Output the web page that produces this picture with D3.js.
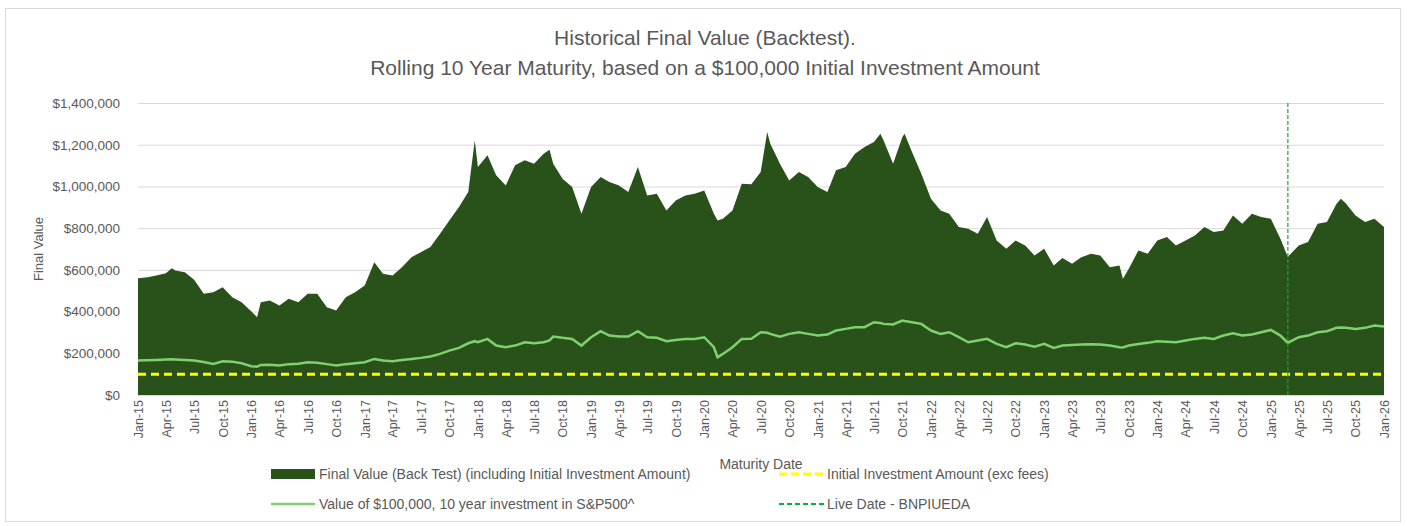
<!DOCTYPE html>
<html>
<head>
<meta charset="utf-8">
<script src="https://cdn.jsdelivr.net/npm/d3@7"></script>
<style>
  body { margin: 0; background: #fff; }
  svg { display: block; }
  .narrow { font-family: "Liberation Sans Narrow", "Arial Narrow", sans-serif; }
</style>
</head>
<body>
<div id="chart"></div>
<script>
// maturity dates (monthly, plus a few extra points at visible peaks / dips)
var dates = [
  '2015-01-01','2015-02-01','2015-03-01','2015-04-01','2015-04-20','2015-05-01','2015-06-01','2015-07-01','2015-08-01','2015-09-01','2015-10-01','2015-11-01','2015-12-01',
  '2016-01-01','2016-01-20','2016-02-01','2016-03-01','2016-04-01','2016-05-01','2016-06-01','2016-07-01','2016-08-01','2016-09-01','2016-10-01','2016-11-01','2016-12-01',
  '2017-01-01','2017-02-01','2017-03-01','2017-04-01','2017-05-01','2017-06-01','2017-07-01','2017-08-01','2017-09-01','2017-10-01','2017-11-01','2017-12-01','2017-12-22',
  '2018-01-01','2018-02-01','2018-03-01','2018-04-01','2018-05-01','2018-06-01','2018-07-01','2018-08-01','2018-08-20','2018-09-01','2018-10-01','2018-11-01','2018-12-01',
  '2019-01-01','2019-02-01','2019-03-01','2019-04-01','2019-05-01','2019-06-01','2019-07-01','2019-08-01','2019-09-01','2019-10-01','2019-11-01','2019-12-01',
  '2020-01-01','2020-02-01','2020-02-13','2020-03-01','2020-04-01','2020-05-01','2020-06-01','2020-07-01','2020-07-22','2020-08-01','2020-09-01','2020-10-01','2020-11-01','2020-12-01',
  '2021-01-01','2021-02-01','2021-03-01','2021-04-01','2021-05-01','2021-06-01','2021-07-01','2021-07-22','2021-08-01','2021-09-01','2021-10-01','2021-10-08','2021-11-01','2021-12-01',
  '2022-01-01','2022-02-01','2022-03-01','2022-04-01','2022-05-01','2022-06-01','2022-07-01','2022-08-01','2022-09-01','2022-10-01','2022-11-01','2022-12-01',
  '2023-01-01','2023-02-01','2023-03-01','2023-04-01','2023-05-01','2023-06-01','2023-07-01','2023-08-01','2023-09-01','2023-09-12','2023-10-01','2023-11-01','2023-12-01',
  '2024-01-01','2024-02-01','2024-03-01','2024-04-01','2024-05-01','2024-06-01','2024-07-01','2024-08-01','2024-09-01','2024-10-01','2024-11-01','2024-12-01',
  '2025-01-01','2025-02-01','2025-02-25','2025-03-01','2025-04-01','2025-05-01','2025-06-01','2025-07-01','2025-08-01','2025-08-15','2025-09-01','2025-10-01','2025-11-01','2025-12-01',
  '2026-01-01'
];

// Final Value (Back Test), in $ thousands
var finalValue = [
  560,565,573,584,608,597,589,552,485,493,517,469,445,
  402,373,445,453,429,461,445,485,485,421,405,469,493,
  525,637,581,573,613,661,685,709,773,837,901,973,1221,
  1093,1149,1053,1005,1101,1125,1109,1157,1176,1109,1037,997,869,
  997,1045,1021,1005,973,1093,957,965,885,933,957,965,
  981,869,837,845,885,1013,1010,1069,1261,1205,1109,1029,1069,1045,
  997,973,1077,1093,1157,1189,1213,1253,1221,1109,1237,1253,1165,1061,
  941,885,869,805,797,773,853,741,701,741,717,669,
  701,621,657,629,661,677,669,613,621,557,605,693,677,
  741,757,717,741,765,805,781,789,861,821,869,853,
  845,749,661,669,717,733,821,829,917,941,917,861,829,845,
  805
];

// Value of $100,000, 10 year investment in S&P500, in $ thousands
var spValue = [
  165,167,168,170,171,170,168,165,158,149,162,160,152,
  138,136,144,145,141,148,150,157,155,148,141,148,152,
  157,173,165,162,168,173,178,185,197,213,226,248,258,
  253,269,237,229,237,253,248,253,262,280,274,269,237,
  277,306,285,280,280,306,277,274,258,264,269,269,
  277,229,181,197,229,269,270,301,298,293,280,293,301,293,
  285,290,309,317,325,325,349,345,341,338,357,355,349,341,
  309,293,301,277,253,261,269,245,229,248,242,232,
  245,226,237,240,242,243,242,237,229,228,237,245,250,
  258,255,253,261,269,274,269,285,296,285,290,301,
  312,285,250,253,277,285,301,306,322,324,322,317,322,333,
  328
];

var initialInvestment = 100000;
var liveDate = '2025-02-25';
var yTicks = [0, 200000, 400000, 600000, 800000, 1000000, 1200000, 1400000];

var titleLines = [
  'Historical Final Value (Backtest).',
  'Rolling 10 Year Maturity, based on a $100,000 Initial Investment Amount'
];

var svgWidth = 1407;
var svgHeight = 526;
var margins = { top: 103, right: 23, bottom: 131, left: 138 };
var chartWidth = svgWidth - margins.left - margins.right;
var chartHeight = svgHeight - margins.top - margins.bottom;

var parse = d3.timeParse('%Y-%m-%d');
var rows = dates.map((d, i) => ({ date: parse(d), fv: finalValue[i] * 1000, sp: spValue[i] * 1000 }));

var svg = d3.select('#chart').append('svg')
  .attr('width', svgWidth)
  .attr('height', svgHeight);

// outer chart border
svg.append('rect')
  .attr('x', 5.5).attr('y', 8.5)
  .attr('width', 1395).attr('height', 513)
  .attr('fill', '#fff')
  .attr('stroke', '#d9d9d9');

// title
svg.append('g').selectAll('text')
  .data(titleLines)
  .enter()
  .append('text')
  .attr('class', 'narrow')
  .attr('x', 705)
  .attr('y', (d, i) => 45 + i * 30)
  .attr('text-anchor', 'middle')
  .attr('font-size', 21)
  .attr('fill', '#595959')
  .text(d => d);

var chartGroup = svg.append('g')
  .attr('transform', `translate(${margins.left}, ${margins.top})`);

var x = d3.scaleTime()
  .domain([parse('2015-01-01'), parse('2026-01-01')])
  .range([0, chartWidth]);

var y = d3.scaleLinear()
  .domain([0, 1400000])
  .range([chartHeight, 0]);

// gridlines
chartGroup.append('g')
  .call(d3.axisLeft(y).tickValues(yTicks).tickSize(-chartWidth).tickFormat(''))
  .call(g => g.select('.domain').remove())
  .call(g => g.selectAll('line').attr('stroke', '#d9d9d9').attr('stroke-width', 1));

// y axis labels
chartGroup.append('g')
  .attr('transform', 'translate(-15, 0)')
  .call(d3.axisLeft(y).tickValues(yTicks).tickSize(0).tickFormat(d => '$' + d3.format(',')(d)))
  .call(g => g.select('.domain').remove())
  .call(g => g.selectAll('text')
    .attr('font-family', '"Liberation Sans", Arial, sans-serif')
    .attr('font-size', 13.5)
    .attr('fill', '#595959'));

// backtest area
var area = d3.area()
  .x(d => x(d.date))
  .y0(y(0))
  .y1(d => y(d.fv));

chartGroup.append('path')
  .datum(rows)
  .attr('d', area)
  .attr('fill', '#28521a');

// S&P line
var spLine = d3.line()
  .x(d => x(d.date))
  .y(d => y(d.sp));

chartGroup.append('path')
  .datum(rows)
  .attr('d', spLine)
  .attr('fill', 'none')
  .attr('stroke', '#7fd16f')
  .attr('stroke-width', 2.5);

// initial investment
chartGroup.append('line')
  .attr('x1', 0).attr('x2', chartWidth)
  .attr('y1', y(initialInvestment)).attr('y2', y(initialInvestment))
  .attr('stroke', '#ffff00')
  .attr('stroke-width', 3)
  .attr('stroke-dasharray', '8,5');

// live date
chartGroup.append('line')
  .attr('x1', x(parse(liveDate))).attr('x2', x(parse(liveDate)))
  .attr('y1', 0).attr('y2', chartHeight)
  .attr('stroke', '#2e9a3a')
  .attr('stroke-width', 1.2)
  .attr('stroke-dasharray', '4,2');

// x axis, quarterly
chartGroup.append('g')
  .attr('transform', `translate(0, ${chartHeight})`)
  .call(d3.axisBottom(x).ticks(d3.timeMonth.every(3)).tickSize(0).tickFormat(d3.timeFormat('%b-%y')))
  .call(g => g.select('.domain').remove())
  .call(g => g.selectAll('text')
    .attr('font-family', '"Liberation Sans", Arial, sans-serif')
    .attr('font-size', 12.5)
    .attr('fill', '#595959')
    .attr('text-anchor', 'end')
    .attr('dy', '0.35em')
    .attr('transform', 'translate(0, 5) rotate(-90)')
    .attr('x', 0).attr('y', 0));

// axis titles
svg.append('text')
  .attr('transform', 'translate(43, 249) rotate(-90)')
  .attr('text-anchor', 'middle')
  .attr('font-family', '"Liberation Sans", Arial, sans-serif')
  .attr('font-size', 13)
  .attr('fill', '#595959')
  .text('Final Value');

svg.append('text')
  .attr('class', 'narrow')
  .attr('x', 761).attr('y', 469)
  .attr('text-anchor', 'middle')
  .attr('font-size', 14)
  .attr('fill', '#595959')
  .text('Maturity Date');

// legend
var legend = svg.append('g').attr('class', 'narrow').attr('font-size', 14).attr('fill', '#595959');

function legendText(xp, yp, label) {
  legend.append('text').attr('x', xp).attr('y', yp).attr('dy', '0.35em').text(label);
}

legend.append('rect').attr('x', 271).attr('y', 469).attr('width', 44).attr('height', 10).attr('fill', '#28521a');
legendText(319, 474, 'Final Value (Back Test) (including Initial Investment Amount)');

legend.append('line').attr('x1', 779).attr('x2', 825).attr('y1', 474).attr('y2', 474)
  .attr('stroke', '#ffff00').attr('stroke-width', 3).attr('stroke-dasharray', '8,4');
legendText(827, 474, 'Initial Investment Amount (exc  fees)');

legend.append('line').attr('x1', 271).attr('x2', 315).attr('y1', 504).attr('y2', 504)
  .attr('stroke', '#7fd16f').attr('stroke-width', 2.5);
legendText(319, 504, 'Value of $100,000, 10 year investment in S&P500^');

legend.append('line').attr('x1', 779).attr('x2', 825).attr('y1', 504).attr('y2', 504)
  .attr('stroke', '#00b050').attr('stroke-width', 2).attr('stroke-dasharray', '5,3');
legendText(827, 504, 'Live Date - BNPIUEDA');
</script>
</body>
</html>
